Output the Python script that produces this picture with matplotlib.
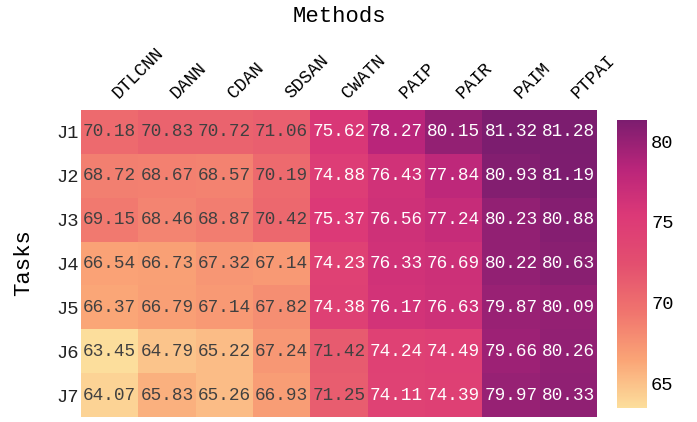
import numpy as np
import matplotlib
matplotlib.use("Agg")
import matplotlib.pyplot as plt
from matplotlib.colors import LinearSegmentedColormap

# accuracy (%) per task (rows) and method (columns)
methods = ["DTLCNN", "DANN", "CDAN", "SDSAN", "CWATN", "PAIP", "PAIR", "PAIM", "PTPAI"]
tasks = ["J1", "J2", "J3", "J4", "J5", "J6", "J7"]
j1 = [70.18, 70.83, 70.72, 71.06, 75.62, 78.27, 80.15, 81.32, 81.28]
j2 = [68.72, 68.67, 68.57, 70.19, 74.88, 76.43, 77.84, 80.93, 81.19]
j3 = [69.15, 68.46, 68.87, 70.42, 75.37, 76.56, 77.24, 80.23, 80.88]
j4 = [66.54, 66.73, 67.32, 67.14, 74.23, 76.33, 76.69, 80.22, 80.63]
j5 = [66.37, 66.79, 67.14, 67.82, 74.38, 76.17, 76.63, 79.87, 80.09]
j6 = [63.45, 64.79, 65.22, 67.24, 71.42, 74.24, 74.49, 79.66, 80.26]
j7 = [64.07, 65.83, 65.26, 66.93, 71.25, 74.11, 74.39, 79.97, 80.33]
cbar_ticks = [65, 70, 75, 80]

acc = np.array([j1, j2, j3, j4, j5, j6, j7])

# plotly "Sunsetdark"-like ramp
cmap = LinearSegmentedColormap.from_list(
    "sunsetdark", ["#fcde9c", "#faa476", "#f0746e", "#e34f6f", "#dc3977", "#b9257a", "#7c1d6f"])

plt.rcParams["font.family"] = ["Liberation Mono", "DejaVu Sans Mono"]

fig = plt.figure(figsize=(6.97, 4.22), dpi=100)
ax = fig.add_axes([0.1162, 0.0118, 0.7403, 0.7275])
cax = fig.add_axes([0.8852, 0.0332, 0.043, 0.6825])

vmin, vmax = acc.min(), acc.max()
mesh = ax.pcolormesh(acc, cmap=cmap, vmin=vmin, vmax=vmax)
ax.set_xlim(0, len(methods))
ax.set_ylim(len(tasks), 0)

norm = mesh.norm
for i in range(acc.shape[0]):
    for j in range(acc.shape[1]):
        r, g, b, _ = cmap(norm(acc[i, j]))
        lum = 0.2126 * r + 0.7152 * g + 0.0722 * b
        col = "#404040" if lum > 0.408 else "white"
        ax.text(j + 0.5, i + 0.5, f"{acc[i, j]:.2f}", ha="center", va="center",
                fontsize=12.8, color=col)

ax.xaxis.tick_top()
ax.set_xticks(np.arange(len(methods)) + 0.5)
ax.set_xticklabels(methods, rotation=45, ha="left", va="bottom", fontsize=13)
ax.set_yticks(np.arange(len(tasks)) + 0.5)
ax.set_yticklabels(tasks, fontsize=13.5, color="#222222")
ax.tick_params(length=0, pad=1.5)
ax.tick_params(axis="x", pad=6)
for s in ax.spines.values():
    s.set_visible(False)

cb = fig.colorbar(mesh, cax=cax, ticks=cbar_ticks)
cb.outline.set_visible(False)
cb.ax.tick_params(length=0, pad=3, labelsize=13.5)

fig.text(0.4864, 1 - 17 / 422, "Methods", ha="center", va="center", fontsize=16)
fig.text(23.5 / 697, 1 - 263 / 422, "Tasks", ha="center", va="center", rotation=90, fontsize=16)

fig.savefig("out.png", dpi=100)
